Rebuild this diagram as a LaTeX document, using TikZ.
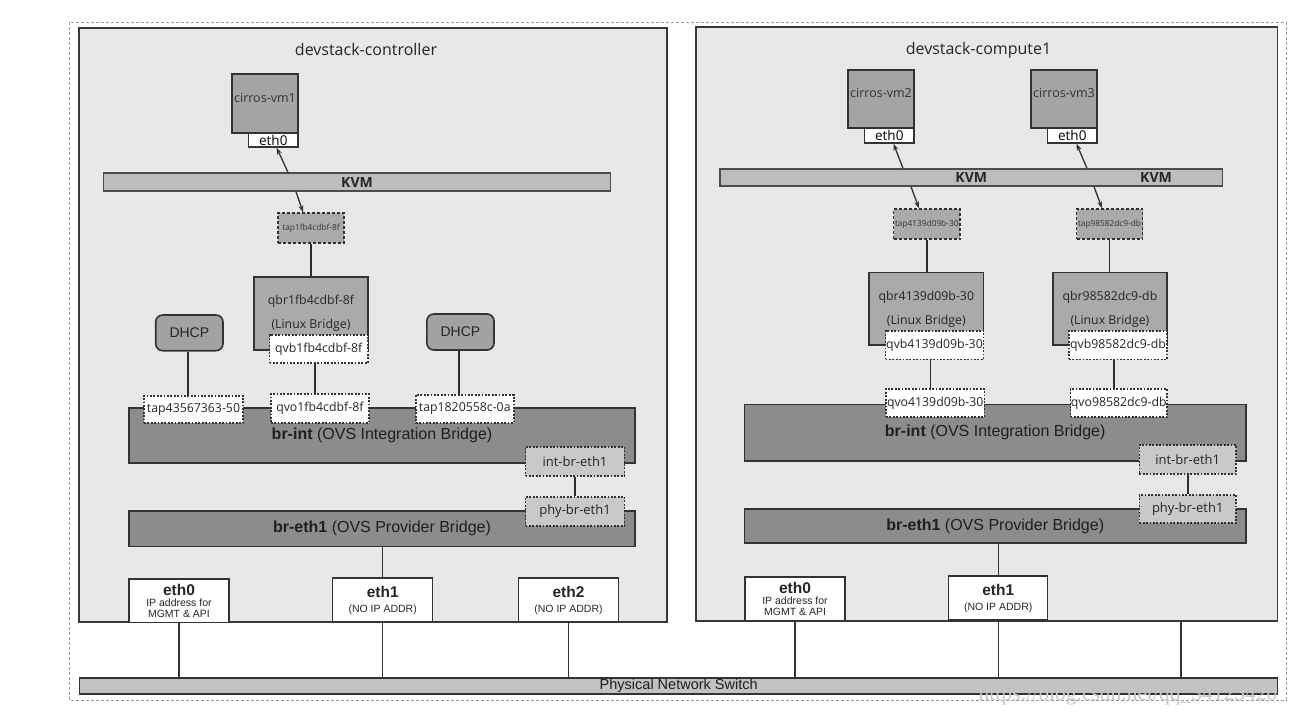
\documentclass[tikz,border=0pt]{standalone}
\usepackage{fontspec}
\setmainfont{Liberation Sans}
\newfontfamily\osans{Open Sans}
\newfontfamily\wserif{Liberation Serif}
\usetikzlibrary{arrows.meta,calc}
\newcommand\fsset[1]{\fontsize{#1}{#1}\selectfont}
\definecolor{hostgray}{HTML}{E8E8E8}
\definecolor{vmgray}{HTML}{A4A4A4}
\definecolor{kvmgray}{HTML}{BDBDBD}
\definecolor{tapgray}{HTML}{ABABAB}
\definecolor{qbrgray}{HTML}{AAAAAA}
\definecolor{dhcpgray}{HTML}{A2A2A2}
\definecolor{brgray}{HTML}{8C8C8C}
\definecolor{patchgray}{HTML}{C9C9C9}
\definecolor{swgray}{HTML}{C2C2C2}
\begin{document}
\begin{tikzpicture}[x=1pt,y=-1pt,
  host/.style={draw=black!78, line width=1.5, fill=hostgray, inner sep=0},
  title/.style={font=\osans\fsset{16}, text=black!85, inner sep=0},
  vm/.style={draw=black!80, line width=1.4, fill=vmgray, inner sep=0, font=\osans\fsset{12.5}, text=black!80, text depth=12pt},
  veth/.style={draw=black!80, line width=1.3, fill=white, inner sep=0, font=\osans\fsset{13.5}},
  kvm/.style={draw=black!70, line width=1.3, fill=kvmgray, inner sep=0, font=\osans\bfseries\fsset{14}, text=black!85},
  kvmtext/.style={inner sep=0, font=\osans\bfseries\fsset{14}, text=black!85},
  tapg/.style={draw=black!80, dash pattern=on 3pt off 2pt, line width=1.4, fill=tapgray, inner sep=0, font=\osans\fsset{8.3}, text=black!80},
  qbr/.style={draw=black!80, line width=1.4, fill=qbrgray, inner sep=0, align=center, font=\osans\fontsize{12.3}{24}\selectfont, text=black!85},
  port/.style={draw=black!80, line width=1.6, dash pattern=on 1.8pt off 1.6pt, fill=white, inner sep=0, font=\osans\fsset{12.3}, text=black!85},
  patch/.style={port, fill=patchgray, font=\osans\fsset{13}},
  dhcp/.style={draw=black!80, line width=1.6, rounded corners=7, fill=dhcpgray, inner sep=0, font=\fsset{14}, text=black!85},
  bridge/.style={draw=black!80, line width=1.4, fill=brgray, inner sep=0, font=\fsset{16}, text=black!88},
  nic/.style={draw=black!80, line width=1.3, fill=white, inner sep=0, align=center, font=\fontsize{10.5}{11}\selectfont, text=black!85},
  sw/.style={draw=black!80, line width=1.3, fill=swgray, inner sep=0, font=\fsset{14.5}, text=black!88},
  link/.style={draw=black!82, line width=1.9},
  varrow/.style={draw=black!80, line width=1.3, -{Stealth[length=7pt,width=5pt]}},
  wire/.style={draw=black!80, line width=1.1},
  outer/.style={draw=black!40, line width=0.7, dash pattern=on 3pt off 2pt}
]
\useasboundingbox[fill=white] (0,0) rectangle (1308,716);

% outer frame
\draw[outer] (69,22) rectangle (1286,700);

% physical switch
\node[sw, minimum width=1198, minimum height=16] (sw) at (678.7,686) {Physical Network Switch};

% ================= controller =================
\node[host, minimum width=588, minimum height=594] (hostA) at (373,325) {};
\node[title] (titleA) at (366,49) {devstack-controller};

\node[vm, minimum width=66, minimum height=59] (vmA) at (265,103.5) {cirros-vm1};
\node[veth, minimum width=49.4, minimum height=14] (vmAeth) at (273.3,140) {eth0};
\node[kvm, minimum width=507, minimum height=18] (kvmA) at (357,182) {KVM};
\node[tapg, minimum width=66, minimum height=30] (tapA) at (311,228) {tap1fb4cdbf-8f};
\node[qbr, minimum width=114.3, minimum height=73] (qbrA) at (311,313.5) {qbr1fb4cdbf-8f\\(Linux Bridge)};
\node[dhcp, minimum width=67.3, minimum height=35.7] (dhcpA1) at (189.35,332.85) {DHCP};
\node[dhcp, minimum width=67.2, minimum height=36] (dhcpA2) at (460.4,332) {DHCP};

\node[bridge, minimum width=506, minimum height=55] (brintA) at (382,435.5) {\textbf{br-int} (OVS Integration Bridge)};
\node[port, minimum width=98.5, minimum height=27.7] (qvbA) at (318.75,348.85) {qvb1fb4cdbf-8f};
\node[port, minimum width=99, minimum height=27.3] (tapA1) at (193.5,409.35) {tap43567363-50};
\node[port, minimum width=98.3, minimum height=28.7] (qvoA) at (319.85,408.35) {qvo1fb4cdbf-8f};
\node[port, minimum width=98, minimum height=28] (tapA2) at (464.75,409) {tap1820558c-0a};
\node[bridge, minimum width=506, minimum height=35.7] (brethA) at (382,528.85) {\textbf{br-eth1} (OVS Provider Bridge)};
\node[patch, minimum width=98.8, minimum height=29] (intbrA) at (575,461.2) {int-br-eth1};
\node[patch, minimum width=98.8, minimum height=29] (phybrA) at (575,511.2) {phy-br-eth1};

\node[nic, minimum width=100, minimum height=43.7] (nicA0) at (179,600.85) {{\fontsize{15.5}{15.5}\selectfont\bfseries eth0}\\[0pt]IP address for\\MGMT \& API};
\node[nic, minimum width=100, minimum height=44] (nicA1) at (382.7,600) {{\fontsize{15.5}{15.5}\selectfont\bfseries eth1}\\[4pt](NO IP ADDR)};
\node[nic, minimum width=100, minimum height=44] (nicA2) at (568.5,600) {{\fontsize{15.5}{15.5}\selectfont\bfseries eth2}\\[4pt](NO IP ADDR)};

\draw[varrow] ([xshift=-69pt]kvmA.north) -- ([xshift=3.3pt]vmAeth.south);
\draw[varrow] ([xshift=-61pt]kvmA.south) -- ([xshift=-8pt]tapA.north);
\draw[link] (tapA.south) -- (qbrA.north);
\draw[link] ([xshift=-1pt]dhcpA1.south) -- ([xshift=-1pt]dhcpA1.south |- tapA1.north);
\draw[link] ([xshift=-1pt]dhcpA2.south) -- ([xshift=-1pt]dhcpA2.south |- tapA2.north);
\draw[link] ([xshift=-4pt]qvbA.south) -- ([xshift=-4pt]qvbA.south |- qvoA.north);
\draw[link] (intbrA.south) -- (phybrA.north);
\draw[wire] (brethA.south) -- (brethA.south -| nicA1.north) -- (nicA1.north);
\draw[wire] (nicA0.south) -- (nicA0.south |- sw.north);
\draw[wire] (nicA1.south) -- (nicA1.south |- sw.north);
\draw[wire] (nicA2.south) -- (nicA2.south |- sw.north);

% ================= compute =================
\node[host, minimum width=581.5, minimum height=594] (hostB) at (986.75,324) {};
\node[title] (titleB) at (978.5,50.7) {devstack-compute1};

\node[vm, minimum width=66, minimum height=58] (vmB1) at (881,99) {cirros-vm2};
\node[veth, minimum width=49.4, minimum height=15] (vmB1eth) at (889.3,135.5) {eth0};
\node[vm, minimum width=66, minimum height=58] (vmB2) at (1064,99) {cirros-vm3};
\node[veth, minimum width=49.4, minimum height=15] (vmB2eth) at (1072.3,135.5) {eth0};
\node[kvm, minimum width=502.5, minimum height=17] (kvmB) at (971.25,177.5) {KVM};
\node[kvmtext] (kvmB2) at (1156,177.5) {KVM};
\node[tapg, minimum width=66.5, minimum height=30] (tapB1) at (926.75,224) {tap4139d09b-30};
\node[tapg, minimum width=66, minimum height=30] (tapB2) at (1109.5,224) {tap98582dc9-db};
\node[qbr, minimum width=114.6, minimum height=72.3] (qbrB1) at (926.3,308.85) {qbr4139d09b-30\\(Linux Bridge)};
\node[qbr, minimum width=114.2, minimum height=72.3] (qbrB2) at (1109.9,308.85) {qbr98582dc9-db\\(Linux Bridge)};

\node[bridge, minimum width=501.6, minimum height=56.7] (brintB) at (995.2,432.65) {\textbf{br-int} (OVS Integration Bridge)};
\node[port, minimum width=98, minimum height=28.6] (qvbB1) at (934.5,345) {qvb4139d09b-30};
\node[port, minimum width=98, minimum height=28.6] (qvbB2) at (1118,345) {qvb98582dc9-db};
\node[port, minimum width=98.4, minimum height=28] (qvoB1) at (935.2,403) {qvo4139d09b-30};
\node[port, minimum width=96.5, minimum height=28] (qvoB2) at (1118.75,403) {qvo98582dc9-db};
\node[bridge, minimum width=501.6, minimum height=34] (brethB) at (995.2,526) {\textbf{br-eth1} (OVS Provider Bridge)};
\node[patch, minimum width=96.6, minimum height=29] (intbrB) at (1187.7,459.5) {int-br-eth1};
\node[patch, minimum width=96.6, minimum height=28] (phybrB) at (1187.7,509) {phy-br-eth1};

\node[nic, minimum width=100, minimum height=43.7] (nicB0) at (795,598.85) {{\fontsize{15.5}{15.5}\selectfont\bfseries eth0}\\[0pt]IP address for\\MGMT \& API};
\node[nic, minimum width=98.8, minimum height=44] (nicB1) at (998.2,598) {{\fontsize{15.5}{15.5}\selectfont\bfseries eth1}\\[4pt](NO IP ADDR)};
\coordinate (freeB) at (1181,621);

\draw[varrow] ([xshift=-68.25pt]kvmB.north) -- ([xshift=4.2pt]vmB1eth.south);
\draw[varrow] ([xshift=-60.25pt]kvmB.south) -- ([xshift=-7.75pt]tapB1.north);
\draw[varrow] ([xshift=115.75pt]kvmB.north) -- ([xshift=4.2pt]vmB2eth.south);
\draw[varrow] ([xshift=122.75pt]kvmB.south) -- ([xshift=-7.5pt]tapB2.north);
\draw[link] (tapB1.south) -- (tapB1.south |- qbrB1.north);
\draw[link] (tapB2.south) -- (tapB2.south |- qbrB2.north);
\draw[link] ([xshift=-4pt]qvbB1.south) -- ([xshift=-4pt]qvbB1.south |- qvoB1.north);
\draw[link] ([xshift=-4pt]qvbB2.south) -- ([xshift=-4pt]qvbB2.south |- qvoB2.north);
\draw[link] (intbrB.south) -- (phybrB.north);
\draw[wire] (brethB.south) -- (brethB.south -| nicB1.north) -- (nicB1.north);
\draw[wire] (nicB0.south) -- (nicB0.south |- sw.north);
\draw[wire] (nicB1.south) -- (nicB1.south |- sw.north);
\draw[wire] (freeB) -- (freeB |- sw.north);

% watermark
\node[font=\wserif\fsset{21.5}, text=black!22, inner sep=0] (wm) at (1128,695) {https://blog.csdn.net/qq\_34125420};
\end{tikzpicture}
\end{document}
